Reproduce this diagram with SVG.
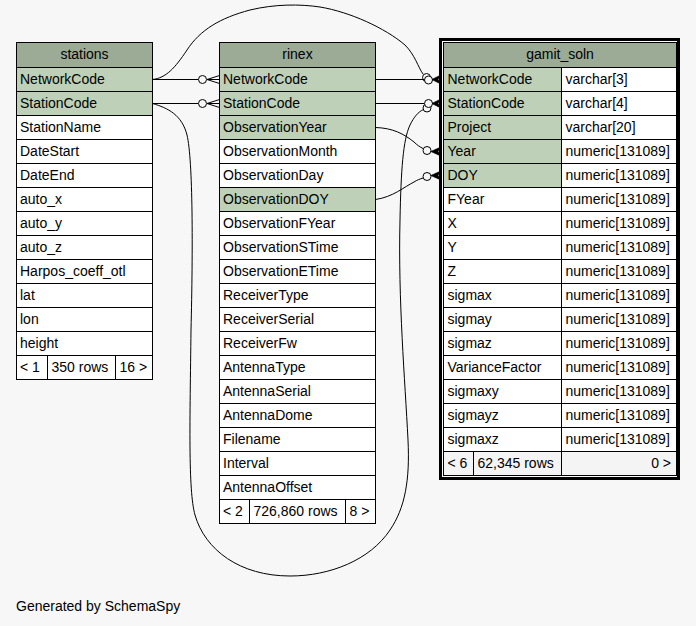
<svg xmlns="http://www.w3.org/2000/svg" width="696" height="626" viewBox="0 0 696 626">
<style>
text{font-family:"Liberation Sans",Arial,Helvetica,sans-serif;font-size:14px;fill:#000}
.h{text-anchor:middle}
.e{text-anchor:end}
.hd{fill:#9bab96;stroke:#000;stroke-width:1}
.k{fill:#bed1b8;stroke:#000;stroke-width:1}
.w{fill:#ffffff;stroke:#000;stroke-width:1}
.f{fill:#f4f4f4;stroke:#000;stroke-width:1}
.ln{fill:none;stroke:#000;stroke-width:1}
.od{fill:#f7f7f7;stroke:#000;stroke-width:1}
.cr{fill:#000;stroke:#000;stroke-width:0.8}
</style>
<rect x="0" y="0" width="696" height="626" fill="#f7f7f7"/>

<g id="stations">
<rect class="hd" x="16.5" y="42.5" width="136" height="25"/>
<text class="h" x="84.5" y="59">stations</text>
<rect class="k" x="16.5" y="67.5" width="136" height="24"/><text x="20" y="83.5">NetworkCode</text>
<rect class="k" x="16.5" y="91.5" width="136" height="24"/><text x="20" y="107.5">StationCode</text>
<rect class="w" x="16.5" y="115.5" width="136" height="24"/><text x="20" y="131.5">StationName</text>
<rect class="w" x="16.5" y="139.5" width="136" height="24"/><text x="20" y="155.5">DateStart</text>
<rect class="w" x="16.5" y="163.5" width="136" height="24"/><text x="20" y="179.5">DateEnd</text>
<rect class="w" x="16.5" y="187.5" width="136" height="24"/><text x="20" y="203.5">auto_x</text>
<rect class="w" x="16.5" y="211.5" width="136" height="24"/><text x="20" y="227.5">auto_y</text>
<rect class="w" x="16.5" y="235.5" width="136" height="24"/><text x="20" y="251.5">auto_z</text>
<rect class="w" x="16.5" y="259.5" width="136" height="24"/><text x="20" y="275.5">Harpos_coeff_otl</text>
<rect class="w" x="16.5" y="283.5" width="136" height="24"/><text x="20" y="299.5">lat</text>
<rect class="w" x="16.5" y="307.5" width="136" height="24"/><text x="20" y="323.5">lon</text>
<rect class="w" x="16.5" y="331.5" width="136" height="24"/><text x="20" y="347.5">height</text>
<rect class="w" x="16.5" y="355.5" width="31" height="24"/><text x="20" y="371.5">&lt; 1</text>
<rect class="w" x="47.5" y="355.5" width="68" height="24"/><text x="51.5" y="371.5">350 rows</text>
<rect class="w" x="115.5" y="355.5" width="37" height="24"/><text x="119.5" y="371.5">16 &gt;</text>
</g>

<g id="rinex">
<rect class="hd" x="219.5" y="42.5" width="156" height="25"/>
<text class="h" x="297.5" y="59">rinex</text>
<rect class="k" x="219.5" y="67.5" width="156" height="24"/><text x="223" y="83.5">NetworkCode</text>
<rect class="k" x="219.5" y="91.5" width="156" height="24"/><text x="223" y="107.5">StationCode</text>
<rect class="k" x="219.5" y="115.5" width="156" height="24"/><text x="223" y="131.5">ObservationYear</text>
<rect class="w" x="219.5" y="139.5" width="156" height="24"/><text x="223" y="155.5">ObservationMonth</text>
<rect class="w" x="219.5" y="163.5" width="156" height="24"/><text x="223" y="179.5">ObservationDay</text>
<rect class="k" x="219.5" y="187.5" width="156" height="24"/><text x="223" y="203.5">ObservationDOY</text>
<rect class="w" x="219.5" y="211.5" width="156" height="24"/><text x="223" y="227.5">ObservationFYear</text>
<rect class="w" x="219.5" y="235.5" width="156" height="24"/><text x="223" y="251.5">ObservationSTime</text>
<rect class="w" x="219.5" y="259.5" width="156" height="24"/><text x="223" y="275.5">ObservationETime</text>
<rect class="w" x="219.5" y="283.5" width="156" height="24"/><text x="223" y="299.5">ReceiverType</text>
<rect class="w" x="219.5" y="307.5" width="156" height="24"/><text x="223" y="323.5">ReceiverSerial</text>
<rect class="w" x="219.5" y="331.5" width="156" height="24"/><text x="223" y="347.5">ReceiverFw</text>
<rect class="w" x="219.5" y="355.5" width="156" height="24"/><text x="223" y="371.5">AntennaType</text>
<rect class="w" x="219.5" y="379.5" width="156" height="24"/><text x="223" y="395.5">AntennaSerial</text>
<rect class="w" x="219.5" y="403.5" width="156" height="24"/><text x="223" y="419.5">AntennaDome</text>
<rect class="w" x="219.5" y="427.5" width="156" height="24"/><text x="223" y="443.5">Filename</text>
<rect class="w" x="219.5" y="451.5" width="156" height="24"/><text x="223" y="467.5">Interval</text>
<rect class="w" x="219.5" y="475.5" width="156" height="24"/><text x="223" y="491.5">AntennaOffset</text>
<rect class="w" x="219.5" y="499.5" width="30" height="24"/><text x="223" y="515.5">&lt; 2</text>
<rect class="w" x="249.5" y="499.5" width="96" height="24"/><text x="253.5" y="515.5">726,860 rows</text>
<rect class="w" x="345.5" y="499.5" width="30" height="24"/><text x="349.5" y="515.5">8 &gt;</text>
</g>

<g id="gamit_soln">
<rect x="440.5" y="39.5" width="238" height="439" fill="#ffffff" stroke="#000" stroke-width="3"/>
<rect class="hd" x="443.5" y="42.5" width="233" height="25"/>
<text class="h" x="560" y="59">gamit_soln</text>
<rect class="k" x="443.5" y="67.5" width="118" height="24"/><rect class="w" x="561.5" y="67.5" width="115" height="24"/><text x="447.5" y="83.5">NetworkCode</text><text x="565.5" y="83.5">varchar[3]</text>
<rect class="k" x="443.5" y="91.5" width="118" height="24"/><rect class="w" x="561.5" y="91.5" width="115" height="24"/><text x="447.5" y="107.5">StationCode</text><text x="565.5" y="107.5">varchar[4]</text>
<rect class="k" x="443.5" y="115.5" width="118" height="24"/><rect class="w" x="561.5" y="115.5" width="115" height="24"/><text x="447.5" y="131.5">Project</text><text x="565.5" y="131.5">varchar[20]</text>
<rect class="k" x="443.5" y="139.5" width="118" height="24"/><rect class="w" x="561.5" y="139.5" width="115" height="24"/><text x="447.5" y="155.5">Year</text><text x="565.5" y="155.5">numeric[131089]</text>
<rect class="k" x="443.5" y="163.5" width="118" height="24"/><rect class="w" x="561.5" y="163.5" width="115" height="24"/><text x="447.5" y="179.5">DOY</text><text x="565.5" y="179.5">numeric[131089]</text>
<rect class="w" x="443.5" y="187.5" width="118" height="24"/><rect class="w" x="561.5" y="187.5" width="115" height="24"/><text x="447.5" y="203.5">FYear</text><text x="565.5" y="203.5">numeric[131089]</text>
<rect class="w" x="443.5" y="211.5" width="118" height="24"/><rect class="w" x="561.5" y="211.5" width="115" height="24"/><text x="447.5" y="227.5">X</text><text x="565.5" y="227.5">numeric[131089]</text>
<rect class="w" x="443.5" y="235.5" width="118" height="24"/><rect class="w" x="561.5" y="235.5" width="115" height="24"/><text x="447.5" y="251.5">Y</text><text x="565.5" y="251.5">numeric[131089]</text>
<rect class="w" x="443.5" y="259.5" width="118" height="24"/><rect class="w" x="561.5" y="259.5" width="115" height="24"/><text x="447.5" y="275.5">Z</text><text x="565.5" y="275.5">numeric[131089]</text>
<rect class="w" x="443.5" y="283.5" width="118" height="24"/><rect class="w" x="561.5" y="283.5" width="115" height="24"/><text x="447.5" y="299.5">sigmax</text><text x="565.5" y="299.5">numeric[131089]</text>
<rect class="w" x="443.5" y="307.5" width="118" height="24"/><rect class="w" x="561.5" y="307.5" width="115" height="24"/><text x="447.5" y="323.5">sigmay</text><text x="565.5" y="323.5">numeric[131089]</text>
<rect class="w" x="443.5" y="331.5" width="118" height="24"/><rect class="w" x="561.5" y="331.5" width="115" height="24"/><text x="447.5" y="347.5">sigmaz</text><text x="565.5" y="347.5">numeric[131089]</text>
<rect class="w" x="443.5" y="355.5" width="118" height="24"/><rect class="w" x="561.5" y="355.5" width="115" height="24"/><text x="447.5" y="371.5">VarianceFactor</text><text x="565.5" y="371.5">numeric[131089]</text>
<rect class="w" x="443.5" y="379.5" width="118" height="24"/><rect class="w" x="561.5" y="379.5" width="115" height="24"/><text x="447.5" y="395.5">sigmaxy</text><text x="565.5" y="395.5">numeric[131089]</text>
<rect class="w" x="443.5" y="403.5" width="118" height="24"/><rect class="w" x="561.5" y="403.5" width="115" height="24"/><text x="447.5" y="419.5">sigmayz</text><text x="565.5" y="419.5">numeric[131089]</text>
<rect class="w" x="443.5" y="427.5" width="118" height="24"/><rect class="w" x="561.5" y="427.5" width="115" height="24"/><text x="447.5" y="443.5">sigmaxz</text><text x="565.5" y="443.5">numeric[131089]</text>
<rect class="f" x="443.5" y="451.5" width="30" height="24"/><text x="447.5" y="467.5">&lt; 6</text>
<rect class="f" x="473.5" y="451.5" width="88" height="24"/><text x="477.5" y="467.5">62,345 rows</text>
<rect class="f" x="561.5" y="451.5" width="115" height="24"/><text class="e" x="671" y="467.5">0 &gt;</text>
</g>

<g id="connectors">
<!-- stations.NetworkCode -> rinex.NetworkCode -->
<path class="ln" d="M152.5,79.5 H198.5 M207,79.5 L219.5,75.5 M207,79.5 L219.5,79.5 M207,79.5 L219.5,83.5"/>
<circle class="od" cx="202.5" cy="79.5" r="4"/>
<!-- stations.StationCode -> rinex.StationCode -->
<path class="ln" d="M152.5,103.5 H198.5 M207,103.5 L219.5,99.5 M207,103.5 L219.5,103.5 M207,103.5 L219.5,107.5"/>
<circle class="od" cx="202.5" cy="103.5" r="4"/>
<!-- stations.NetworkCode -> gamit_soln.NetworkCode -->
<path class="ln" d="M152.5,79.5 C166,78 175,68 187,50 C200,30 220,18 250,10 C275,4 300,4 320,7 C350,12 385,28 405,45 C415,55 418,67 423,74"/>
<circle class="od" cx="426.5" cy="77.5" r="4"/>
<!-- rinex.NetworkCode -> gamit_soln.NetworkCode -->
<path class="ln" d="M375.5,79.5 H424.5"/>
<circle class="od" cx="428.5" cy="80" r="4"/>
<polygon class="cr" points="432,79.5 441,75 438,79.5 441,84"/>
<!-- stations.StationCode -> gamit_soln.StationCode -->
<path class="ln" d="M152.5,103.5 C168,108 182,115 187,135 C193,160 193,250 191,330 C190,420 188,490 195,515 C205,550 240,576 290,576 C330,576 370,560 390,530 C405,508 410,480 408,440 C405,380 398,300 400,220 C401,170 403,140 410,125 C414,117 418,112 423.5,109.5"/>
<circle class="od" cx="427" cy="108" r="4"/>
<!-- rinex.StationCode -> gamit_soln.StationCode -->
<path class="ln" d="M375.5,103.5 H424.5"/>
<circle class="od" cx="428.5" cy="103.5" r="4"/>
<polygon class="cr" points="432,103.5 441,99 438,103.5 441,108"/>
<!-- rinex.ObservationYear -> gamit_soln.Year -->
<path class="ln" d="M375.5,127.5 C393,128 404,134 414,142 C417,145 420,147 423,148.5"/>
<circle class="od" cx="427" cy="150.5" r="4"/>
<polygon class="cr" points="431,151.5 441,147 438,151.5 441,156"/>
<!-- rinex.ObservationDOY -> gamit_soln.DOY -->
<path class="ln" d="M375.5,199.5 C393,197 404,187 414,182 C417,180 420,179 423,178"/>
<circle class="od" cx="427" cy="176.5" r="4"/>
<polygon class="cr" points="431,175.5 441,171 438,175.5 441,180"/>
</g>

<text x="16" y="611">Generated by SchemaSpy</text>
</svg>
